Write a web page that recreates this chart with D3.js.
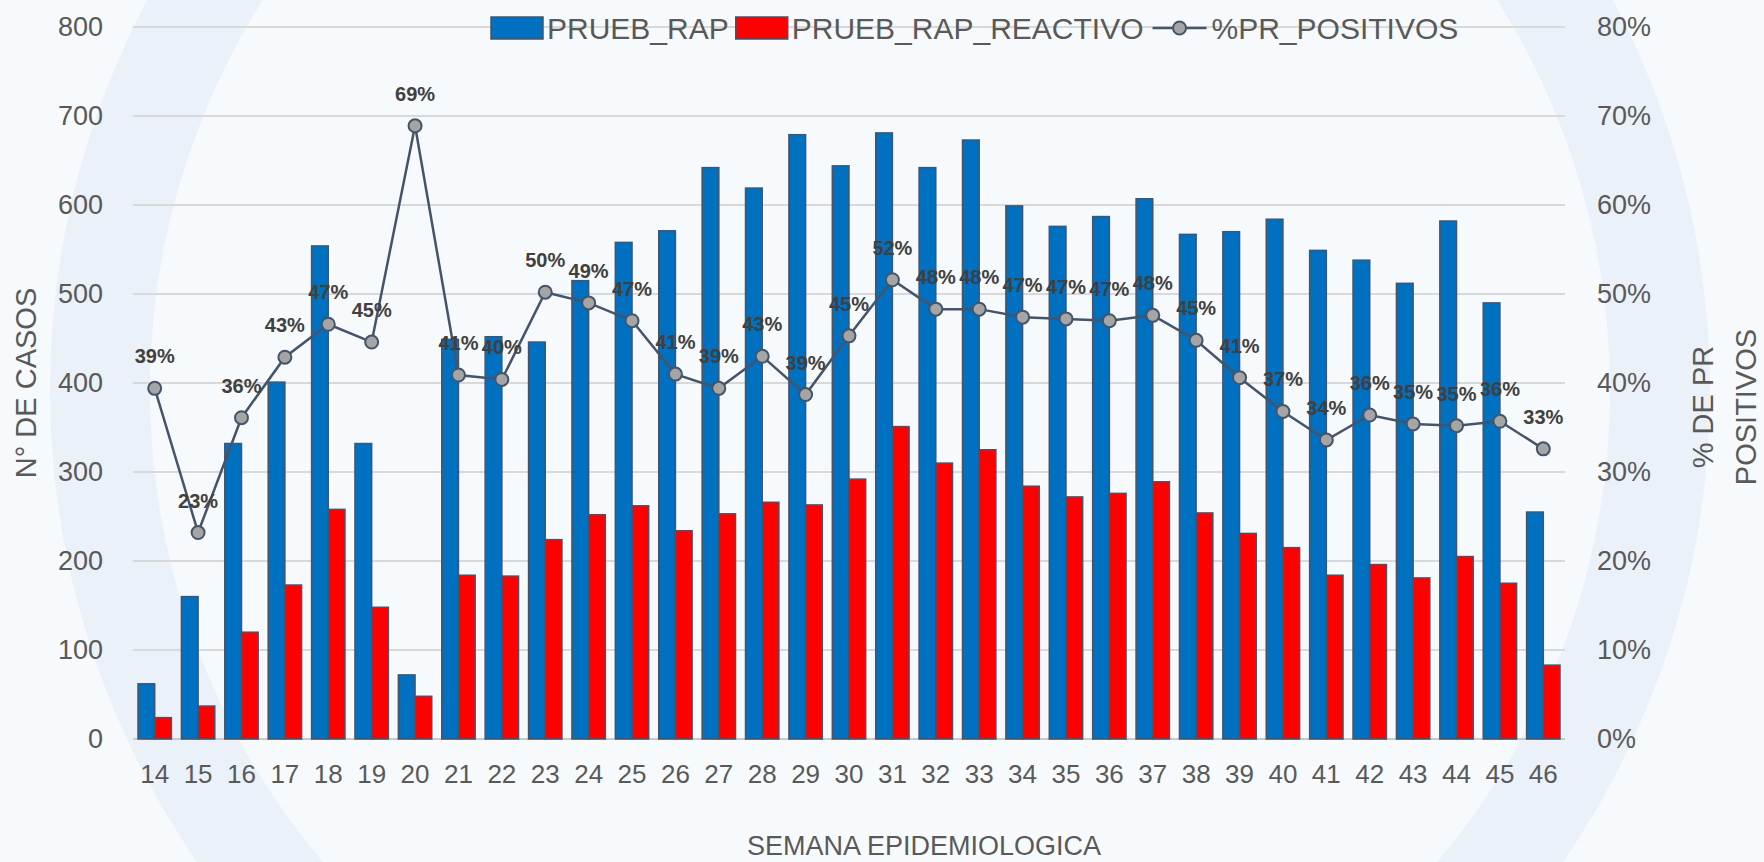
<!DOCTYPE html>
<html>
  <head>
    <meta charset="utf-8" />
    <title>Pruebas rapidas por semana epidemiologica</title>
    <script src="https://d3js.org/d3.v7.min.js"></script>
    <style>

      body {
        margin: 0;
        background: #f7fafd;
      }

      text {
        font-family: "Liberation Sans", Arial, sans-serif;
        fill: #595959;
      }

    </style>
  </head>
  <body>

    <svg id="chart">
      <g id="watermark"></g>
      <g id="grid"></g>
      <g id="bars"></g>
      <g id="line"></g>
      <g id="labels"></g>
      <g id="axes"></g>
      <g id="legend"></g>
    </svg>

    <script>

      // semanas epidemiologicas
      var weeks = [14, 15, 16, 17, 18, 19, 20, 21, 22, 23, 24, 25, 26, 27, 28, 29, 30,
        31, 32, 33, 34, 35, 36, 37, 38, 39, 40, 41, 42, 43, 44, 45, 46];

      var pruebRap = [62, 160, 332, 401, 554, 332, 72, 449, 452, 446, 515, 558, 571, 642,
        619, 679, 644, 681, 642, 673, 599, 576, 587, 607, 567, 570, 584, 549, 538, 512,
        582, 490, 255];

      var pruebRapReactivo = [24, 37, 120, 173, 258, 148, 48, 184, 183, 224, 252, 262, 234,
        253, 266, 263, 292, 351, 310, 325, 284, 272, 276, 289, 254, 231, 215, 184, 196,
        181, 205, 175, 83];

      var prPositivos = [0.394, 0.232, 0.361, 0.429, 0.466, 0.446, 0.689, 0.409, 0.404,
        0.502, 0.490, 0.470, 0.410, 0.394, 0.430, 0.387, 0.453, 0.516, 0.483, 0.483,
        0.474, 0.472, 0.470, 0.476, 0.448, 0.406, 0.368, 0.336, 0.364, 0.354, 0.352,
        0.357, 0.326];

      var leftTicks = [0, 100, 200, 300, 400, 500, 600, 700, 800];
      var rightTicks = [0, 0.1, 0.2, 0.3, 0.4, 0.5, 0.6, 0.7, 0.8];

      var seriesNames = ["PRUEB_RAP", "PRUEB_RAP_REACTIVO", "%PR_POSITIVOS"];

      var width = 1764;
      var height = 862;
      var margin = {
        top: 27,
        right: 199,
        bottom: 123,
        left: 133
      };
      var chartWidth = width - margin.left - margin.right;
      var chartHeight = height - margin.top - margin.bottom;

      var blue = "#0070c0";
      var red = "#ff0000";
      var slate = "#44546a";

      var svg = d3.select("#chart")
        .attr("width", width)
        .attr("height", height);

      // faint emblem in the background
      var wm = svg.select("#watermark");
      wm.append("rect")
        .attr("width", width)
        .attr("height", height)
        .style("fill", "#f7fafd");
      wm.append("circle")
        .attr("cx", 880)
        .attr("cy", 390)
        .attr("r", 780)
        .style("fill", "none")
        .style("stroke", "#ebf1f9")
        .style("stroke-width", 100);

      var x = d3.scaleBand()
        .domain(weeks)
        .range([margin.left, margin.left + chartWidth]);

      var barWidth = x.bandwidth() / 2.6;

      var y = d3.scaleLinear()
        .domain([0, 800])
        .range([margin.top + chartHeight, margin.top]);

      var y2 = d3.scaleLinear()
        .domain([0, 0.8])
        .range([margin.top + chartHeight, margin.top]);

      // gridlines
      svg.select("#grid").selectAll("line")
        .data(leftTicks)
        .enter().append("line")
        .attr("x1", margin.left)
        .attr("x2", margin.left + chartWidth)
        .attr("y1", function(d) { return y(d); })
        .attr("y2", function(d) { return y(d); })
        .style("stroke", function(d) { return d === 0 ? "#c9c9c9" : "#d9d9d9"; })
        .style("stroke-width", 2);

      // bars
      var data = weeks.map(function(w, i) {
        return {
          week: w,
          rap: pruebRap[i],
          reactivo: pruebRapReactivo[i],
          pct: prPositivos[i]
        };
      });

      var bars = svg.select("#bars");

      bars.selectAll(".rap")
        .data(data)
        .enter().append("rect")
        .attr("class", "rap")
        .attr("x", function(d) { return x(d.week) + x.bandwidth() / 2 - barWidth; })
        .attr("width", barWidth)
        .attr("y", function(d) { return y(d.rap); })
        .attr("height", function(d) { return y(0) - y(d.rap); })
        .style("fill", blue)
        .style("stroke", slate)
        .style("stroke-width", 1.5);

      bars.selectAll(".reactivo")
        .data(data)
        .enter().append("rect")
        .attr("class", "reactivo")
        .attr("x", function(d) { return x(d.week) + x.bandwidth() / 2; })
        .attr("width", barWidth)
        .attr("y", function(d) { return y(d.reactivo); })
        .attr("height", function(d) { return y(0) - y(d.reactivo); })
        .style("fill", red)
        .style("stroke", slate)
        .style("stroke-width", 1.5);

      // line + markers
      var line = d3.line()
        .x(function(d) { return x(d.week) + x.bandwidth() / 2; })
        .y(function(d) { return y2(d.pct); });

      svg.select("#line").append("path")
        .datum(data)
        .attr("d", line)
        .style("fill", "none")
        .style("stroke", slate)
        .style("stroke-width", 2.5);

      svg.select("#line").selectAll("circle")
        .data(data)
        .enter().append("circle")
        .attr("cx", function(d) { return x(d.week) + x.bandwidth() / 2; })
        .attr("cy", function(d) { return y2(d.pct); })
        .attr("r", 6.5)
        .style("fill", "#a5a5a5")
        .style("stroke", slate)
        .style("stroke-width", 2);

      // data labels
      var pctFormat = d3.format(".0%");

      svg.select("#labels").selectAll("text")
        .data(data)
        .enter().append("text")
        .attr("x", function(d) { return x(d.week) + x.bandwidth() / 2; })
        .attr("y", function(d) { return y2(d.pct) - 25; })
        .attr("text-anchor", "middle")
        .style("font-size", "20px")
        .style("font-weight", "bold")
        .style("fill", "#404040")
        .text(function(d) { return pctFormat(d.pct); });

      // axes
      var axes = svg.select("#axes");

      axes.selectAll(".ytick")
        .data(leftTicks)
        .enter().append("text")
        .attr("class", "ytick")
        .attr("x", 103)
        .attr("y", function(d) { return y(d); })
        .attr("dy", "0.35em")
        .attr("text-anchor", "end")
        .style("font-size", "27px")
        .text(function(d) { return d; });

      axes.selectAll(".y2tick")
        .data(rightTicks)
        .enter().append("text")
        .attr("class", "y2tick")
        .attr("x", 1597)
        .attr("y", function(d) { return y2(d); })
        .attr("dy", "0.35em")
        .style("font-size", "27px")
        .text(function(d) { return pctFormat(d); });

      axes.selectAll(".xtick")
        .data(weeks)
        .enter().append("text")
        .attr("class", "xtick")
        .attr("x", function(d) { return x(d) + x.bandwidth() / 2; })
        .attr("y", 774)
        .attr("dy", "0.35em")
        .attr("text-anchor", "middle")
        .style("font-size", "26px")
        .text(function(d) { return d; });

      axes.append("text")
        .attr("x", 924)
        .attr("y", 846)
        .attr("dy", "0.35em")
        .attr("text-anchor", "middle")
        .style("font-size", "27px")
        .text("SEMANA EPIDEMIOLOGICA");

      axes.append("text")
        .attr("transform", "translate(26, 383) rotate(-90)")
        .attr("dy", "0.35em")
        .attr("text-anchor", "middle")
        .style("font-size", "29px")
        .text("N° DE CASOS");

      var rightTitle = axes.append("text")
        .attr("transform", "translate(1724, 407) rotate(-90)")
        .attr("text-anchor", "middle")
        .style("font-size", "29px");
      rightTitle.append("tspan")
        .attr("x", 0)
        .attr("y", -21)
        .attr("dy", "0.35em")
        .text("% DE PR");
      rightTitle.append("tspan")
        .attr("x", 0)
        .attr("y", 22)
        .attr("dy", "0.35em")
        .text("POSITIVOS");

      // legend
      var legend = svg.select("#legend");
      var lx = 491;
      var ly = 28;

      seriesNames.forEach(function(name, i) {
        if (i < 2) {
          legend.append("rect")
            .attr("x", lx)
            .attr("y", ly - 11)
            .attr("width", 52)
            .attr("height", 22)
            .style("fill", i === 0 ? blue : red)
            .style("stroke", slate)
            .style("stroke-width", 1.5);
          lx += 56;
        } else {
          legend.append("line")
            .attr("x1", lx + 2)
            .attr("x2", lx + 56)
            .attr("y1", ly)
            .attr("y2", ly)
            .style("stroke", slate)
            .style("stroke-width", 2.5);
          legend.append("circle")
            .attr("cx", lx + 29)
            .attr("cy", ly)
            .attr("r", 6.5)
            .style("fill", "#a5a5a5")
            .style("stroke", slate)
            .style("stroke-width", 2);
          lx += 61;
        }
        var t = legend.append("text")
          .attr("x", lx)
          .attr("y", ly)
          .attr("dy", "0.35em")
          .style("font-size", "30px")
          .text(name);
        lx += t.node().getComputedTextLength() + 7;
      });

    </script>
  </body>
</html>
